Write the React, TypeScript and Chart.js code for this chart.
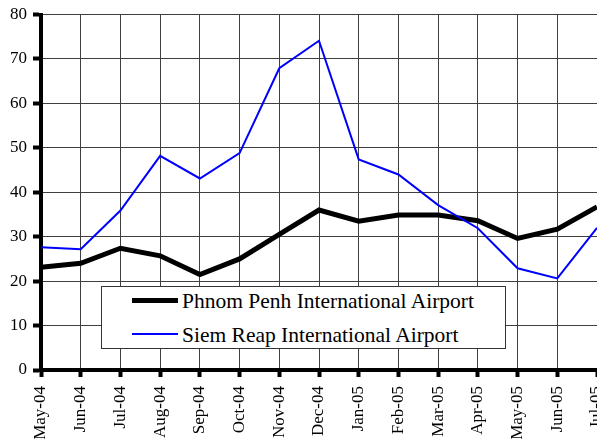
import React, { useEffect, useRef } from "react";
import { Chart, registerables } from "chart.js";

Chart.register(...registerables);

const categories = [
  "May-04", "Jun-04", "Jul-04", "Aug-04", "Sep-04", "Oct-04", "Nov-04", "Dec-04",
  "Jan-05", "Feb-05", "Mar-05", "Apr-05", "May-05", "Jun-05", "Jul-05",
];
const phnomPenh = [23.1, 24.0, 27.4, 25.7, 21.5, 25.0, 30.5, 36.0, 33.5, 34.9, 34.9, 33.6, 29.6, 31.7, 36.7];
const siemReap = [27.6, 27.2, 35.9, 48.2, 43.1, 48.8, 67.9, 74.1, 47.4, 44.0, 37.1, 31.9, 22.9, 20.6, 32.0];
const seriesNames = ["Phnom Penh International Airport", "Siem Reap International Airport"];
const yMin = 0;
const yMax = 80;
const yStep = 10;

const FONT = "'Liberation Serif', 'Times New Roman', serif";

export default function App() {
  const ref = useRef<HTMLCanvasElement | null>(null);

  useEffect(() => {
    if (!ref.current) return;
    const chart = new Chart(ref.current, {
      type: "line",
      data: {
        labels: categories,
        datasets: [
          {
            label: seriesNames[0],
            data: phnomPenh,
            borderColor: "#000000",
            borderWidth: 5,
            pointRadius: 0,
            tension: 0,
            fill: false,
            order: 2,
            borderJoinStyle: "miter",
          },
          {
            label: seriesNames[1],
            data: siemReap,
            borderColor: "#0000ff",
            borderWidth: 2,
            pointRadius: 0,
            tension: 0,
            fill: false,
            order: 1,
          },
        ],
      },
      options: {
        animation: false,
        responsive: false,
        devicePixelRatio: 1,
        layout: { padding: { top: 44.5, right: 73, bottom: 0, left: 0 } },
        plugins: { legend: { display: false }, tooltip: { enabled: false } },
        scales: {
          x: {
            offset: false,
            afterFit: (s: any) => {
              s.height = 120;
            },
            grid: {
              color: "#404040",
              lineWidth: 1,
              tickColor: "#000",
              tickWidth: 4,
              tickLength: 7,
              offset: false,
            },
            border: { color: "#000", width: 4 },
            ticks: {
              autoSkip: false,
              maxRotation: 90,
              minRotation: 90,
              padding: 9,
              color: "#000",
              font: { family: FONT, size: 17 },
            },
          },
          y: {
            min: yMin,
            max: yMax,
            afterFit: (s: any) => {
              s.width = 71;
            },
            grid: {
              color: "#404040",
              lineWidth: 1,
              tickColor: "#000",
              tickWidth: 4,
              tickLength: 8,
            },
            border: { color: "#000", width: 4 },
            ticks: {
              stepSize: yStep,
              padding: 6,
              color: "#000",
              font: { family: FONT, size: 17 },
            },
          },
        },
      },
    });
    return () => chart.destroy();
  }, []);

  return (
    <div
      style={{
        position: "fixed",
        left: 0,
        top: 0,
        width: 597,
        height: 439,
        overflow: "hidden",
        background: "#fff",
      }}
    >
      <canvas
        ref={ref}
        width={700}
        height={520}
        style={{ position: "absolute", left: -30, top: -30, width: 700, height: 520 }}
      />
      <div
        style={{
          position: "absolute",
          left: 101,
          top: 286,
          width: 405,
          height: 63,
          boxSizing: "border-box",
          border: "1px solid #333",
          background: "#fff",
          fontFamily: FONT,
          fontSize: 21.5,
          color: "#000",
        }}
      >
        {seriesNames.map((name, i) => (
          <div
            key={name}
            style={{
              position: "absolute",
              left: 30,
              top: i === 0 ? 0 : 34,
              height: 26,
              display: "flex",
              alignItems: "center",
              whiteSpace: "nowrap",
            }}
          >
            <div
              style={{
                width: 46,
                height: i === 0 ? 5 : 2,
                background: i === 0 ? "#000" : "#0000ff",
                marginRight: 4,
              }}
            />
            <span style={{ lineHeight: "26px", position: "relative", top: 1 }}>{name}</span>
          </div>
        ))}
      </div>
    </div>
  );
}
